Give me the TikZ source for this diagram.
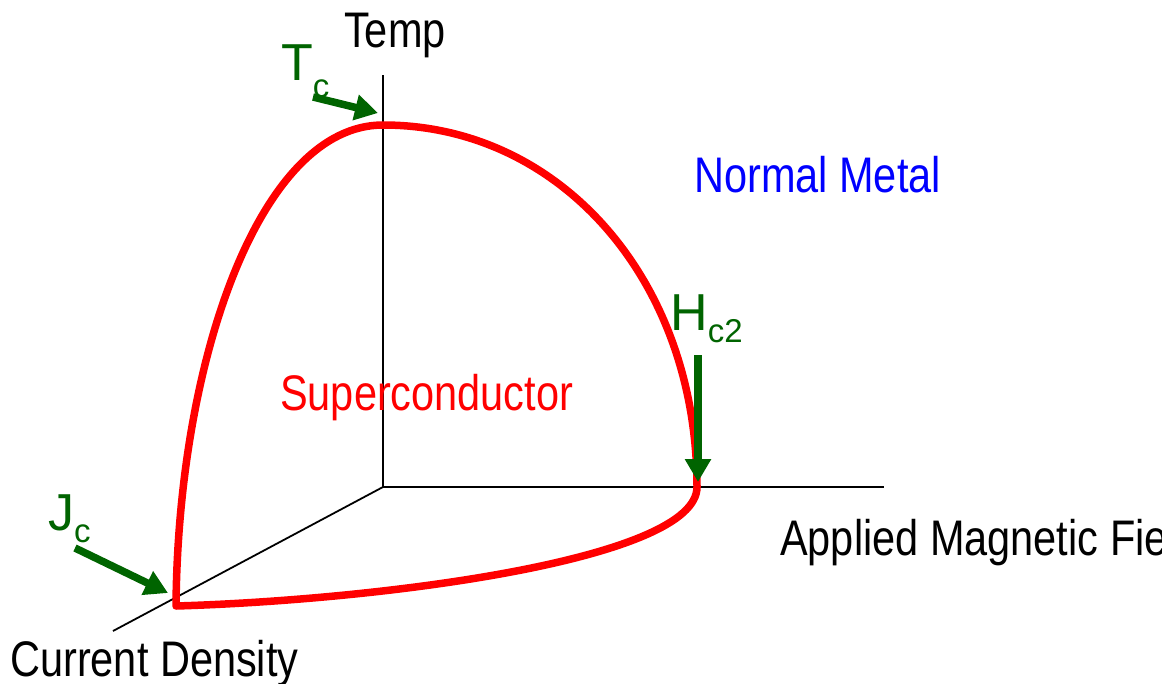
\documentclass[tikz,border=0pt]{standalone}
\usepackage{fontspec}
\usepackage{xcolor}
\usepackage{tikz}
\usetikzlibrary{arrows.meta}
\setmainfont{Liberation Sans}
\newfontfamily\axisfont[FakeStretch=0.83]{Liberation Sans}
\definecolor{critgreen}{RGB}{0,100,0}
\newcommand{\critlabel}[3]{#1\raisebox{-#3}{\fontsize{33}{33}\selectfont #2}}

\begin{document}
\begin{tikzpicture}[x=1pt, y=-1pt,
  axis/.style={black, line width=1.8pt},
  phase/.style={red, line width=7.5pt, line join=round},
  critarrow/.style={critgreen, line width=7.5pt, -{Triangle[length=23pt,width=25pt]}},
  axislabel/.style={font=\axisfont\fontsize{50}{60}\selectfont, inner sep=0pt, anchor=base west},
  critlbl/.style={font=\fontsize{52}{60}\selectfont, text=critgreen, inner sep=0pt, anchor=base west}]
  \useasboundingbox (0,0) rectangle (1162,683);

  % axes
  \coordinate (O) at (383,487);
  \coordinate (tempend) at (383,75);
  \coordinate (fieldend) at (884,487);
  \coordinate (currentend) at (113,631);
  \draw[axis] (tempend) -- (O) -- (fieldend);
  \draw[axis] (O) -- (currentend);

  \node[axislabel] (temp) at (344,47) {Temp};
  \node[axislabel] (field) at (780,555) {Applied Magnetic Field};
  \node[axislabel] (current) at (10,676) {Current Density};
  \node[axislabel, text=blue] (normal) at (694,192) {Normal Metal};
  \node[axislabel, text=red] (super) at (280,410) {Superconductor};

  % critical surface
  \coordinate (jcpt) at (176,606);
  \coordinate (tctop) at (383,125);
  \coordinate (hcpt) at (697,487);
  \draw[phase] (jcpt) .. controls (178,360) and (260,125) .. (tctop)
    .. controls (560,125) and (697,280) .. (hcpt)
    .. controls (697,560) and (380,600) .. (jcpt) -- cycle;

  % critical values
  \coordinate (tcpt) at (378,113);
  \coordinate (tctail) at (313,97);
  \coordinate (jchead) at (168,593);
  \coordinate (jctail) at (75,548);
  \coordinate (hchead) at (698,482);
  \coordinate (hctail) at (698,355);
  \draw[critarrow] (tctail) -- (tcpt);
  \draw[critarrow] (jctail) -- (jchead);
  \draw[critarrow] (hctail) -- (hchead);

  \node[critlbl] (tc) at (281,80) {\critlabel{T}{c}{17pt}};
  \node[critlbl] (jc) at (48,530) {\critlabel{J}{c}{12pt}};
  \node[critlbl] (hc) at (670,330) {\critlabel{H}{c2}{12pt}};
\end{tikzpicture}
\end{document}
